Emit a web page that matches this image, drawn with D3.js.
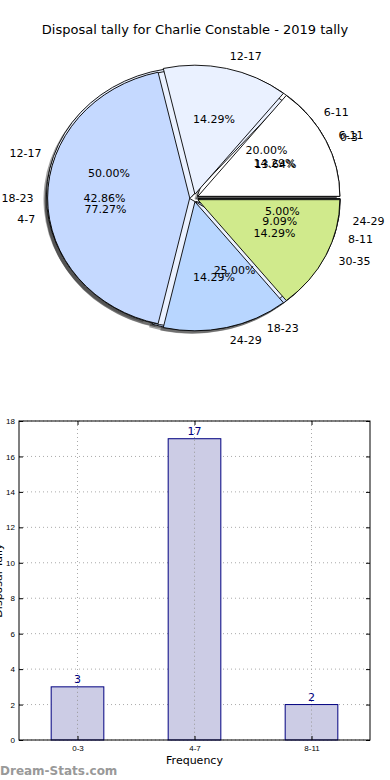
<!DOCTYPE html>
<html>
<head>
<meta charset="utf-8">
<script src="https://cdn.jsdelivr.net/npm/d3@7"></script>
<style>
  body { margin: 0; background: #fff; }
  svg { font-family: "DejaVu Sans", sans-serif; }
</style>
</head>
<body>
<div id="chart"></div>
<script>
// three tallies drawn on top of each other, like the original
const pieLabelsA = ["0-3", "4-7", "8-11"] ;
const pieValuesA = [3, 17, 2] ;
const pieLabelsB = ["6-11", "12-17", "18-23", "24-29", "30-35"] ;
const pieValuesB = [1, 1, 3, 1, 1] ;
const pieLabelsC = ["6-11", "12-17", "18-23", "24-29"] ;
const pieValuesC = [4, 10, 5, 1] ;
const pieColors = ["#ffffff", "#eaf1ff", "#c5d9ff", "#b8d6ff", "#d0ea8c"] ;

const barLabels = ["0-3", "4-7", "8-11"] ;
const barValues = [3, 17, 2] ;
const yTicks = [0, 2, 4, 6, 8, 10, 12, 14, 16, 18] ;

const width = 390, height = 780 ;

const svg = d3.select("#chart").append("svg")
    .attr("width", width)
    .attr("height", height)
;

svg.append("text")
    .attr("x", 195).attr("y", 34)
    .attr("text-anchor", "middle")
    .style("font-size", "13px")
    .text("Disposal tally for Charlie Constable - 2019 tally")
;

// ---- pie part ----
const pieDims = { cx: 194, cy: 198, rx: 142, ry: 129, explode: 0.03 } ;

const pieGen = d3.pie()
    .sort(null)
    .value((d) => d)
    .startAngle(Math.PI / 2)
    .endAngle(Math.PI / 2 - 2 * Math.PI)
;
const arcGen = d3.arc().innerRadius(0).outerRadius(1) ;

const pies = [
  { labels: pieLabelsC, values: pieValuesC },
  { labels: pieLabelsA, values: pieValuesA },
  { labels: pieLabelsB, values: pieValuesB },
] ;

const pieG = svg.append("g")
    .attr("transform", `translate(${pieDims.cx},${pieDims.cy})`)
;

// offsets along the middle of each wedge
function offset(d, k) {
  const m = (d.startAngle + d.endAngle) / 2 ;
  return [Math.sin(m) * k * pieDims.rx, -Math.cos(m) * k * pieDims.ry] ;
}

// shadows sit under every wedge of every pie
const shadowG = pieG.append("g") ;
const wedgeG = pieG.append("g") ;
const textG = pieG.append("g") ;

pies.forEach((p) => {
  const total = d3.sum(p.values) ;
  const arcs = pieGen(p.values).map((d, i) => ({ ...d, label: p.labels[i], color: pieColors[i] })) ;

  shadowG.selectAll(null)
    .data(arcs)
    .enter().append("path")
      .attr("transform", (d) => {
        const [x, y] = offset(d, pieDims.explode) ;
        return `translate(${x - 3},${y + 3}) scale(${pieDims.rx},${pieDims.ry})`
      })
      .attr("d", arcGen)
      .attr("fill", "#333")
      .attr("fill-opacity", 0.45)
  ;

  wedgeG.selectAll(null)
    .data(arcs)
    .enter().append("path")
      .attr("transform", (d) => {
        const [x, y] = offset(d, pieDims.explode) ;
        return `translate(${x},${y}) scale(${pieDims.rx},${pieDims.ry})`
      })
      .attr("d", arcGen)
      .attr("fill", (d) => d.color)
      .attr("stroke", "#000")
      .attr("stroke-width", 0.9)
      .attr("vector-effect", "non-scaling-stroke")
  ;

  textG.selectAll(null)
    .data(arcs)
    .enter().append("text")
      .attr("x", (d) => offset(d, pieDims.explode)[0] + offset(d, 1.1)[0])
      .attr("y", (d) => offset(d, pieDims.explode)[1] + offset(d, 1.1)[1])
      .attr("dy", "0.35em")
      .attr("text-anchor", (d) => offset(d, 1)[0] > 0 ? "start" : "end")
      .style("font-size", "11px")
      .text((d) => d.label)
  ;

  textG.selectAll(null)
    .data(arcs)
    .enter().append("text")
      .attr("x", (d) => offset(d, pieDims.explode)[0] + offset(d, 0.6)[0])
      .attr("y", (d) => offset(d, pieDims.explode)[1] + offset(d, 0.6)[1])
      .attr("dy", "0.35em")
      .attr("text-anchor", "middle")
      .style("font-size", "11px")
      .text((d) => (d.value / total * 100).toFixed(2) + "%")
  ;
}) ;

// ---- bar part ----
const bar = { left: 19, right: 370, top: 421, bottom: 740 } ;

const xScale = d3.scalePoint()
    .domain(barLabels)
    .range([bar.left, bar.right])
    .padding(0.5)
;
const barWidth = xScale.step() * 0.45 ;

const yScale = d3.scaleLinear()
    .domain([0, 18])
    .range([bar.bottom, bar.top])
;

const barG = svg.append("g") ;

// dotted grid
barG.selectAll(null)
  .data(yTicks)
  .enter().append("line")
    .attr("x1", bar.left).attr("x2", bar.right)
    .attr("y1", (d) => yScale(d)).attr("y2", (d) => yScale(d))
    .attr("stroke", "#aaa")
    .attr("stroke-dasharray", "1,3")
;
barG.selectAll(null)
  .data(barLabels)
  .enter().append("line")
    .attr("x1", (d) => xScale(d)).attr("x2", (d) => xScale(d))
    .attr("y1", bar.top).attr("y2", bar.bottom)
    .attr("stroke", "#aaa")
    .attr("stroke-dasharray", "1,3")
;

barG.selectAll("rect.bar")
  .data(barValues)
  .enter().append("rect")
    .attr("class", "bar")
    .attr("x", (d, i) => xScale(barLabels[i]) - barWidth / 2)
    .attr("y", (d) => yScale(d))
    .attr("width", barWidth)
    .attr("height", (d) => yScale(0) - yScale(d))
    .attr("fill", "#cccce5")
    .attr("stroke", "#000080")
    .attr("stroke-width", 1)
;

// grid shows through the bars in the original
barG.selectAll(null)
  .data(barLabels)
  .enter().append("line")
    .attr("x1", (d) => xScale(d)).attr("x2", (d) => xScale(d))
    .attr("y1", (d, i) => yScale(barValues[i]) + 1).attr("y2", bar.bottom)
    .attr("stroke", "#999")
    .attr("stroke-dasharray", "1,3")
;

barG.selectAll("text.value")
  .data(barValues)
  .enter().append("text")
    .attr("class", "value")
    .attr("x", (d, i) => xScale(barLabels[i]))
    .attr("y", (d) => yScale(d) - 4)
    .attr("text-anchor", "middle")
    .attr("fill", "#000080")
    .style("font-size", "11px")
    .text((d) => d)
;

// axes with inward ticks
const yAxis = barG.append("g")
    .attr("transform", `translate(${bar.left},0)`)
    .call(d3.axisLeft(yScale).tickValues(yTicks).tickSizeInner(-4).tickSizeOuter(0).tickPadding(4))
;
const yAxisR = barG.append("g")
    .attr("transform", `translate(${bar.right},0)`)
    .call(d3.axisRight(yScale).tickValues(yTicks).tickSizeInner(-4).tickSizeOuter(0).tickFormat(""))
;
const xAxis = barG.append("g")
    .attr("transform", `translate(0,${bar.bottom})`)
    .call(d3.axisBottom(xScale).tickSizeInner(-4).tickSizeOuter(0).tickPadding(5))
;
const xAxisT = barG.append("g")
    .attr("transform", `translate(0,${bar.top})`)
    .call(d3.axisTop(xScale).tickSizeInner(-4).tickSizeOuter(0).tickFormat(""))
;
[yAxis, yAxisR, xAxis, xAxisT].forEach((a) => {
  a.select(".domain").remove() ;
  a.selectAll("text").style("font-size", "8px").attr("fill", "#000") ;
}) ;

barG.append("rect")
    .attr("x", bar.left).attr("y", bar.top)
    .attr("width", bar.right - bar.left)
    .attr("height", bar.bottom - bar.top)
    .attr("fill", "none")
    .attr("stroke", "#000")
;

svg.append("text")
    .attr("x", (bar.left + bar.right) / 2).attr("y", 764)
    .attr("text-anchor", "middle")
    .style("font-size", "11px")
    .text("Frequency")
;

svg.append("text")
    .attr("transform", `translate(2,${(bar.top + bar.bottom) / 2}) rotate(-90)`)
    .attr("text-anchor", "middle")
    .style("font-size", "11px")
    .text("Disposal Tally")
;

svg.append("text")
    .attr("x", 0).attr("y", 775)
    .attr("fill", "#999")
    .style("font-size", "12px")
    .style("font-weight", "bold")
    .text("Dream-Stats.com")
;
</script>
</body>
</html>
